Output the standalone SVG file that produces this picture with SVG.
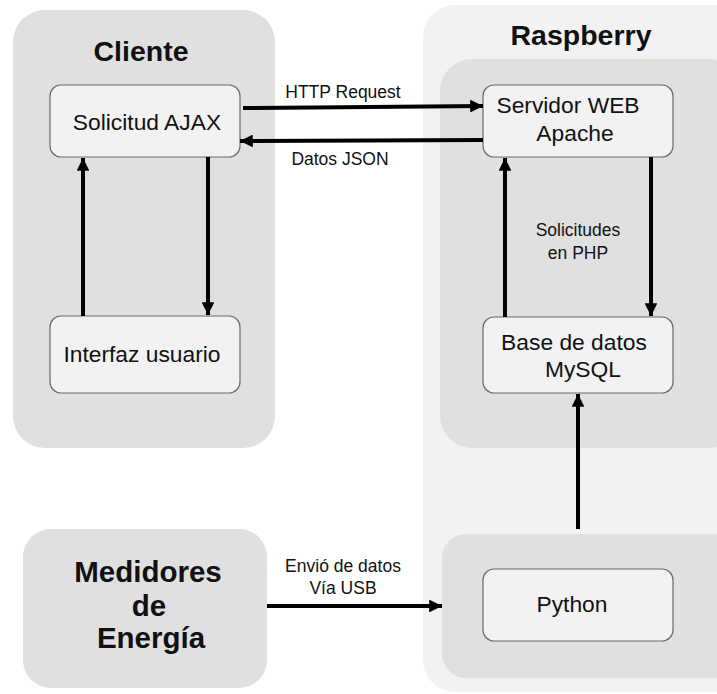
<svg xmlns="http://www.w3.org/2000/svg" width="717" height="694" viewBox="0 0 717 694">
<style>
text{font-family:"Liberation Sans",Arial,sans-serif;fill:#111}
.title{font-weight:bold;font-size:28.5px;text-anchor:middle}
.big{font-weight:bold;font-size:29.5px;text-anchor:middle}
.node{fill:#f2f2f2;stroke:#6b6b6b;stroke-width:1.2}
.nt{font-size:22.8px;text-anchor:middle}
.lbl{font-size:17.5px;text-anchor:middle}
.c{stroke:#000;stroke-width:4;fill:none}
</style>
<defs>
<marker id="ah" viewBox="0 0 10 10" refX="10" refY="5" markerWidth="3.2" markerHeight="3.2" orient="auto" markerUnits="strokeWidth">
<path d="M0,0 L10,5 L0,10 z" fill="#000"/>
</marker>
</defs>
<rect width="717" height="694" fill="#fff"/>
<g id="cliente">
<rect x="13" y="10" width="262" height="438" rx="32" fill="#e0e0e0"/>
<text class="title" x="141" y="61">Cliente</text>
</g>
<g id="raspberry">
<rect x="423" y="5" width="330" height="687" rx="32" fill="#f2f2f2"/>
<rect x="440" y="59" width="300" height="389" rx="32" fill="#e0e0e0"/>
<text class="title" x="581" y="45">Raspberry</text>
</g>
<g id="python-group">
<rect x="442" y="534" width="300" height="144" rx="24" fill="#e0e0e0"/>
</g>
<g id="medidores">
<rect x="23" y="529" width="244" height="159" rx="28" fill="#e0e0e0"/>
<text class="big" x="148" y="582">Medidores</text>
<text class="big" x="149" y="616">de</text>
<text class="big" x="151" y="648">Energía</text>
</g>
<g id="solicitud-ajax">
<rect class="node" x="50" y="85" width="190" height="72" rx="11"/>
<text class="nt" x="147" y="130">Solicitud AJAX</text>
</g>
<g id="interfaz-usuario">
<rect class="node" x="50" y="316" width="190" height="77" rx="11"/>
<text class="nt" x="142" y="362">Interfaz usuario</text>
</g>
<g id="servidor-web">
<rect class="node" x="483" y="85" width="190" height="72" rx="11"/>
<text class="nt" x="568" y="113">Servidor WEB</text>
<text class="nt" x="575" y="141">Apache</text>
</g>
<g id="base-datos">
<rect class="node" x="483" y="317" width="190" height="76" rx="11"/>
<text class="nt" x="574" y="350">Base de datos</text>
<text class="nt" x="583" y="377">MySQL</text>
</g>
<g id="python">
<rect class="node" x="483" y="569" width="190" height="72" rx="11"/>
<text class="nt" x="572" y="612">Python</text>
</g>
<g id="connectors">
<line class="c" x1="243" y1="108" x2="483" y2="106" marker-end="url(#ah)"/>
<line class="c" x1="483" y1="140" x2="240" y2="141" marker-end="url(#ah)"/>
<line class="c" x1="83" y1="316" x2="83" y2="158" marker-end="url(#ah)"/>
<line class="c" x1="208" y1="157" x2="208" y2="315" marker-end="url(#ah)"/>
<line class="c" x1="505" y1="317" x2="505" y2="158" marker-end="url(#ah)"/>
<line class="c" x1="651" y1="157" x2="651" y2="316" marker-end="url(#ah)"/>
<line class="c" x1="578" y1="529" x2="578" y2="394" marker-end="url(#ah)"/>
<line class="c" x1="267" y1="606" x2="442" y2="606" marker-end="url(#ah)"/>
<text class="lbl" x="343" y="98">HTTP Request</text>
<text class="lbl" x="340" y="165">Datos JSON</text>
<text class="lbl" x="578" y="236">Solicitudes</text>
<text class="lbl" x="578" y="259">en PHP</text>
<text class="lbl" x="343" y="572">Envió de datos</text>
<text class="lbl" x="343" y="594">Vía USB</text>
</g>
</svg>
